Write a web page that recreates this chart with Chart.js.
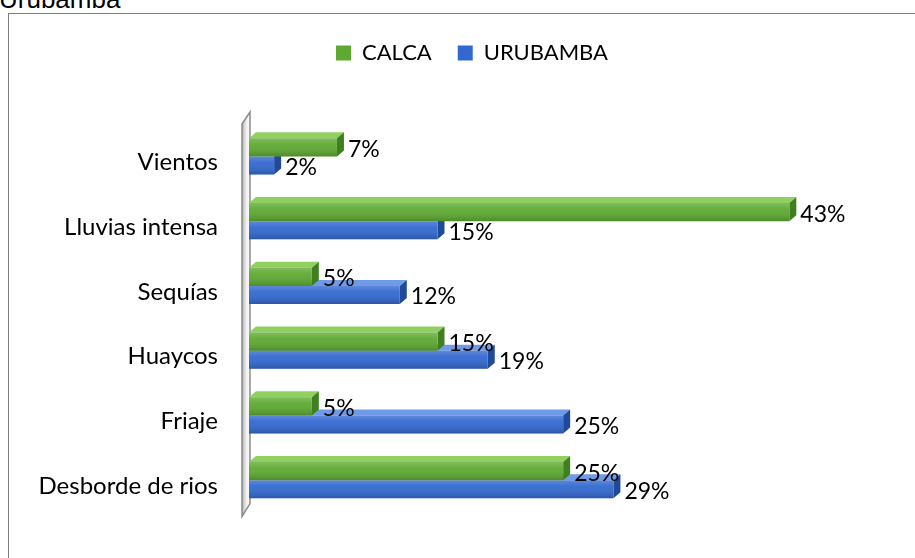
<!DOCTYPE html>
<html><head><meta charset="utf-8">
<script src="https://cdn.jsdelivr.net/npm/chart.js@4"></script>
<style>
html,body{margin:0;padding:0;background:#fff;overflow:hidden}
#wrap{position:relative;width:915px;height:558px;overflow:hidden;background:#fff}
#frame{position:absolute;left:8px;top:13px;width:1000px;height:700px;border-left:1px solid #7f7f7f;border-top:1px solid #7f7f7f}
#title{position:absolute;left:-1px;top:-16px;font:26px "Liberation Sans",Arial,sans-serif;color:#000;white-space:nowrap}
canvas{position:absolute;left:0;top:0}
</style></head><body>
<div id="wrap"><div id="title">Urubamba</div><div id="frame"></div><canvas id="c" width="915" height="558"></canvas></div>
<script>
const categories = ['Vientos','Lluvias intensa','Sequías','Huaycos','Friaje','Desborde de rios'];
const calca = [7,43,5,15,5,25];
const urubamba = [2,15,12,19,25,29];
const seriesNames = ['CALCA','URUBAMBA'];

const FONT = 'Lato';
const DX = 7, DY = 6;
const faceColors = [
  {top:'#8fd05e', side:'#3f7f1f'},
  {top:'#6f9ae6', side:'#1f4a9a'}
];

const legendMargin = {
  id:'legendMargin',
  beforeInit(chart){
    const fit = chart.legend.fit;
    chart.legend.fit = function(){ fit.bind(chart.legend)(); this.height = 108; };
  }
};

function barGeom(el){
  const p = el.getProps(['x','y','base','height'], true);
  return {x:p.x, base:p.base, top:p.y - p.height/2, bot:p.y + p.height/2, cy:p.y};
}

const depth = {
  id:'depth',
  beforeDatasetsDraw(chart){
    const ctx = chart.ctx, a = chart.chartArea;
    const L = a.left, T = a.top, B = a.bottom;
    ctx.save();
    const g = ctx.createLinearGradient(L-7,0,L+1,0);
    g.addColorStop(0,'#b0b0b0'); g.addColorStop(0.5,'#ececec'); g.addColorStop(1,'#ffffff');
    ctx.beginPath();
    ctx.moveTo(L-7, T); ctx.lineTo(L+1, T-12); ctx.lineTo(L+1, B-9); ctx.lineTo(L-7, B+4); ctx.closePath();
    ctx.fillStyle = g; ctx.fill();
    ctx.strokeStyle = '#8a8a8a'; ctx.lineWidth = 1.5; ctx.stroke();
    ctx.restore();
    const n = categories.length;
    for (let i=0;i<n;i++){
      for (const d of [1,0]){
        const el = chart.getDatasetMeta(d).data[i];
        if(!el) continue;
        const b = barGeom(el), c = faceColors[d];
        ctx.save();
        ctx.beginPath();
        ctx.moveTo(b.base, b.top); ctx.lineTo(b.base+DX, b.top-DY); ctx.lineTo(b.x+DX, b.top-DY); ctx.lineTo(b.x, b.top); ctx.closePath();
        ctx.fillStyle = c.top; ctx.fill();
        ctx.beginPath();
        ctx.moveTo(b.x, b.top); ctx.lineTo(b.x+DX, b.top-DY); ctx.lineTo(b.x+DX, b.bot-DY); ctx.lineTo(b.x, b.bot); ctx.closePath();
        ctx.fillStyle = c.side; ctx.fill();
        ctx.restore();
      }
    }
  },
  afterDatasetsDraw(chart){
    const ctx = chart.ctx;
    for (const d of [1,0]){
      const meta = chart.getDatasetMeta(d);
      meta.data.forEach((el)=>{
        const b = barGeom(el);
        const g = ctx.createLinearGradient(0,b.top,0,b.bot);
        g.addColorStop(0,'rgba(255,255,255,0.22)');
        g.addColorStop(0.35,'rgba(255,255,255,0.05)');
        g.addColorStop(1,'rgba(0,0,0,0.18)');
        ctx.save(); ctx.fillStyle = g; ctx.fillRect(b.base, b.top, b.x-b.base, b.bot-b.top); ctx.restore();
      });
    }
    ctx.save();
    ctx.font = '23px ' + FONT; ctx.fillStyle = '#000'; ctx.textBaseline = 'middle'; ctx.textAlign = 'left';
    for (const d of [1,0]){
      const meta = chart.getDatasetMeta(d);
      const vals = chart.data.datasets[d].data;
      meta.data.forEach((el,i)=>{
        const b = barGeom(el);
        ctx.fillText(vals[i] + '%', b.x + 11, b.cy + 2);
      });
    }
    ctx.restore();
  }
};

new Chart(document.getElementById('c'), {
  type:'bar',
  data:{
    labels: categories,
    datasets:[
      {label: seriesNames[0], data: calca, backgroundColor:'#5ea932', borderWidth:0},
      {label: seriesNames[1], data: urubamba, backgroundColor:'#3268cf', borderWidth:0}
    ]
  },
  options:{
    indexAxis:'y',
    responsive:false,
    animation:false,
    devicePixelRatio:1,
    layout:{padding:{left:29,right:0,top:16,bottom:29}},
    datasets:{bar:{barPercentage:1, categoryPercentage:0.56}},
    scales:{
      x:{display:false, min:0, max:53},
      y:{
        grid:{display:false, drawTicks:false},
        border:{display:false},
        ticks:{color:'#000', font:{family:FONT, size:24}, padding:31, labelOffset:6},
        afterFit(scale){ scale.width = 220; }
      }
    },
    plugins:{
      legend:{
        position:'top', align:'center',
        labels:{boxWidth:15, boxHeight:15, padding:26, color:'#000', font:{family:FONT, size:22}}
      },
      tooltip:{enabled:false}
    }
  },
  plugins:[legendMargin, depth]
});
</script>
</body></html>
